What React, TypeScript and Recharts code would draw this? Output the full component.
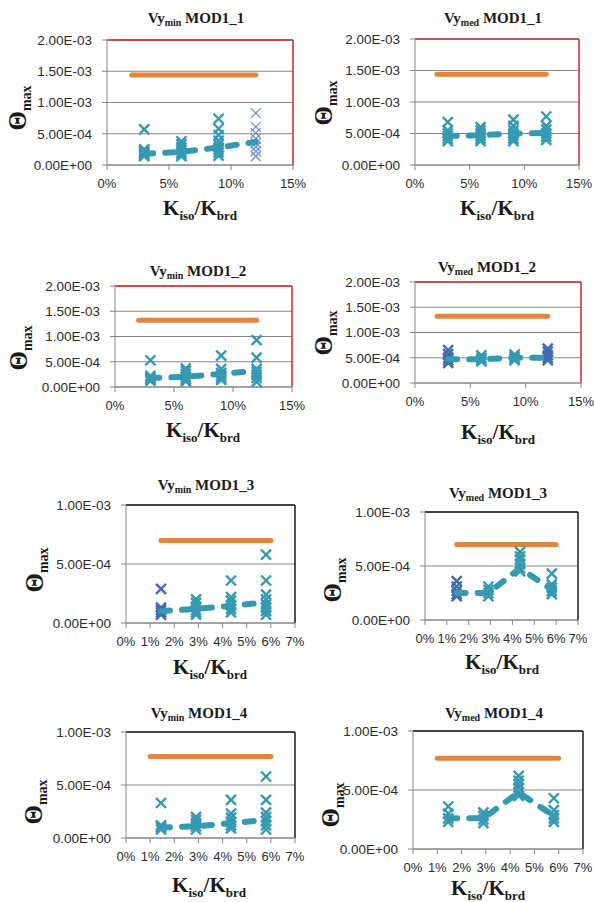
import React from 'react'
import { ScatterChart, Scatter, XAxis, YAxis, CartesianGrid, ReferenceLine } from 'recharts'

// x positions of the test groups (Kiso/Kbrd)
const xsMod12 = [0.03, 0.06, 0.09, 0.12]
const xsMod34 = [0.0145, 0.029, 0.0435, 0.058]

// tick labels
const xTicksWide = [0, 0.05, 0.1, 0.15]
const xTicksNarrow = [0, 0.01, 0.02, 0.03, 0.04, 0.05, 0.06, 0.07]
const yTicksHigh = [0, 5e-4, 1e-3, 1.5e-3, 2e-3]
const yTicksLow = [0, 5e-4, 1e-3]

// limit (orange) line: value and span
const limitValues = [1.44e-3, 1.44e-3, 1.32e-3, 1.32e-3, 0.7e-3, 0.7e-3, 0.77e-3, 0.77e-3]
const limitSpanMod12 = [0.02, 0.12]
const limitSpanMod3 = [0.0145, 0.06]
const limitSpanMod4 = [0.01, 0.06]

// mean values (dashed teal line)
const meanMin1 = [1.8e-4, 2.1e-4, 2.8e-4, 3.7e-4]
const meanMed1 = [4.6e-4, 4.7e-4, 5.0e-4, 5.1e-4]
const meanMin2 = [1.8e-4, 2.0e-4, 2.6e-4, 3.2e-4]
const meanMed2 = [4.7e-4, 4.7e-4, 5.0e-4, 5.0e-4]
const meanMin3 = [1.0e-4, 1.2e-4, 1.45e-4, 1.75e-4]
const meanMed3 = [2.5e-4, 2.5e-4, 4.8e-4, 2.8e-4]
const meanMin4 = [1.0e-4, 1.1e-4, 1.4e-4, 1.7e-4]
const meanMed4 = [2.6e-4, 2.6e-4, 4.8e-4, 2.8e-4]

// individual results (x markers), one list per x group
const ptsMin1 = [
  [5.7e-4, 2.5e-4, 2.2e-4, 2.0e-4, 1.8e-4, 1.6e-4, 1.4e-4],
  [3.8e-4, 3.3e-4, 2.8e-4, 2.4e-4, 2.0e-4, 1.7e-4, 1.4e-4],
  [7.4e-4, 5.8e-4, 4.8e-4, 3.9e-4, 3.3e-4, 2.8e-4, 2.4e-4, 2.0e-4, 1.5e-4],
  [8.3e-4, 6.1e-4, 5.1e-4, 4.2e-4, 3.5e-4, 2.9e-4, 2.2e-4, 1.4e-4],
]
const ptsMed1 = [
  [6.8e-4, 5.5e-4, 5.0e-4, 4.6e-4, 4.2e-4, 3.8e-4],
  [6.0e-4, 5.5e-4, 5.0e-4, 4.6e-4, 4.2e-4, 3.8e-4],
  [7.2e-4, 6.2e-4, 5.5e-4, 5.0e-4, 4.6e-4, 4.2e-4, 3.8e-4],
  [7.7e-4, 6.2e-4, 5.6e-4, 5.0e-4, 4.5e-4, 4.0e-4],
]
const ptsMin2 = [
  [5.3e-4, 2.2e-4, 1.8e-4, 1.5e-4, 1.2e-4],
  [3.7e-4, 3.2e-4, 2.6e-4, 2.0e-4, 1.5e-4, 1.1e-4],
  [6.2e-4, 3.6e-4, 2.8e-4, 2.3e-4, 1.8e-4, 1.4e-4],
  [9.3e-4, 5.8e-4, 3.6e-4, 3.0e-4, 2.4e-4, 1.8e-4, 1.0e-4],
]
const ptsMed2 = [
  [6.5e-4, 5.7e-4, 5.0e-4, 4.5e-4, 4.0e-4],
  [5.5e-4, 5.0e-4, 4.6e-4, 4.3e-4],
  [5.6e-4, 5.2e-4, 4.8e-4, 4.5e-4],
  [6.8e-4, 6.2e-4, 5.5e-4, 5.0e-4, 4.5e-4],
]
const ptsMin3 = [
  [2.9e-4, 1.3e-4, 1.1e-4, 0.9e-4, 0.7e-4],
  [2.0e-4, 1.7e-4, 1.4e-4, 1.1e-4, 0.9e-4, 0.7e-4],
  [3.6e-4, 2.2e-4, 1.9e-4, 1.5e-4, 1.2e-4, 0.9e-4],
  [5.8e-4, 3.6e-4, 2.4e-4, 2.0e-4, 1.6e-4, 1.3e-4, 1.0e-4, 0.7e-4],
]
const ptsMed3 = [
  [3.6e-4, 3.1e-4, 2.7e-4, 2.4e-4, 2.2e-4],
  [3.1e-4, 2.8e-4, 2.5e-4, 2.2e-4],
  [6.3e-4, 5.9e-4, 5.6e-4, 5.2e-4, 4.8e-4, 4.5e-4],
  [4.3e-4, 3.3e-4, 3.0e-4, 2.7e-4, 2.4e-4],
]
const ptsMin4 = [
  [3.3e-4, 1.2e-4, 1.0e-4, 0.8e-4],
  [2.0e-4, 1.7e-4, 1.4e-4, 1.1e-4, 0.8e-4],
  [3.6e-4, 2.3e-4, 1.9e-4, 1.5e-4, 1.2e-4, 0.9e-4],
  [5.8e-4, 3.6e-4, 2.4e-4, 2.0e-4, 1.6e-4, 1.2e-4, 0.8e-4],
]
const ptsMed4 = [
  [3.6e-4, 3.0e-4, 2.6e-4, 2.3e-4],
  [3.1e-4, 2.8e-4, 2.5e-4, 2.2e-4],
  [6.2e-4, 5.8e-4, 5.5e-4, 5.2e-4, 4.8e-4, 4.5e-4],
  [4.3e-4, 3.3e-4, 2.9e-4, 2.6e-4, 2.3e-4],
]

const ORANGE = '#E5853A'
const TEAL = '#3599B2'
const BLUE = '#3F6CAE'
const LIGHT_BLUE = '#6E8FD6'
const AXIS = '#868686'
const SERIF = '"Liberation Serif", "DejaVu Serif", serif'
const SANS = '"Liberation Sans", Arial, sans-serif'

type Rect = { x: number; y: number; w: number; h: number }
type Panel = {
  sub: string
  name: string
  plot: Rect
  xTicks: number[]
  yTicks: number[]
  border: string
  limit: number
  span: number[]
  xs: number[]
  mean: number[]
  pts: number[][]
  colors: string[]
  title: [number, number]
  xLabel: [number, number]
  yLabel: [number, number]
}

const panels: Panel[] = [
  { sub: 'min', name: 'MOD1_1', plot: { x: 107, y: 40, w: 186, h: 125 }, xTicks: xTicksWide, yTicks: yTicksHigh, border: '#C62D2D', limit: limitValues[0], span: limitSpanMod12, xs: xsMod12, mean: meanMin1, pts: ptsMin1, colors: [TEAL, TEAL, TEAL, LIGHT_BLUE], title: [196, 18], xLabel: [200, 208], yLabel: [17, 108] },
  { sub: 'med', name: 'MOD1_1', plot: { x: 415, y: 39, w: 164, h: 126 }, xTicks: xTicksWide, yTicks: yTicksHigh, border: '#C62D2D', limit: limitValues[1], span: limitSpanMod12, xs: xsMod12, mean: meanMed1, pts: ptsMed1, colors: [TEAL, TEAL, TEAL, TEAL], title: [493, 18], xLabel: [497, 208], yLabel: [323, 103] },
  { sub: 'min', name: 'MOD1_2', plot: { x: 115, y: 286, w: 177, h: 101 }, xTicks: xTicksWide, yTicks: yTicksHigh, border: '#C62D2D', limit: limitValues[2], span: limitSpanMod12, xs: xsMod12, mean: meanMin2, pts: ptsMin2, colors: [TEAL, TEAL, TEAL, TEAL], title: [198, 271], xLabel: [203, 430], yLabel: [18, 348] },
  { sub: 'med', name: 'MOD1_2', plot: { x: 415, y: 282, w: 166, h: 101 }, xTicks: xTicksWide, yTicks: yTicksHigh, border: '#C62D2D', limit: limitValues[3], span: limitSpanMod12, xs: xsMod12, mean: meanMed2, pts: ptsMed2, colors: [BLUE, TEAL, TEAL, BLUE], title: [487, 267], xLabel: [498, 432], yLabel: [323, 333] },
  { sub: 'min', name: 'MOD1_3', plot: { x: 126, y: 505, w: 169, h: 118 }, xTicks: xTicksNarrow, yTicks: yTicksLow, border: '#1a1a1a', limit: limitValues[4], span: limitSpanMod3, xs: xsMod34, mean: meanMin3, pts: ptsMin3, colors: [BLUE, TEAL, TEAL, TEAL], title: [206, 485], xLabel: [210, 667], yLabel: [34, 570] },
  { sub: 'med', name: 'MOD1_3', plot: { x: 425, y: 512, w: 153, h: 108 }, xTicks: xTicksNarrow, yTicks: yTicksLow, border: '#1a1a1a', limit: limitValues[5], span: limitSpanMod3, xs: xsMod34, mean: meanMed3, pts: ptsMed3, colors: [BLUE, TEAL, TEAL, TEAL], title: [498, 493], xLabel: [502, 662], yLabel: [332, 580] },
  { sub: 'min', name: 'MOD1_4', plot: { x: 126, y: 732, w: 169, h: 106 }, xTicks: xTicksNarrow, yTicks: yTicksLow, border: '#1a1a1a', limit: limitValues[6], span: limitSpanMod4, xs: xsMod34, mean: meanMin4, pts: ptsMin4, colors: [TEAL, TEAL, TEAL, TEAL], title: [199, 713], xLabel: [209, 885], yLabel: [33, 802] },
  { sub: 'med', name: 'MOD1_4', plot: { x: 413, y: 731, w: 170, h: 118 }, xTicks: xTicksNarrow, yTicks: yTicksLow, border: '#1a1a1a', limit: limitValues[7], span: limitSpanMod4, xs: xsMod34, mean: meanMed4, pts: ptsMed4, colors: [TEAL, TEAL, TEAL, TEAL], title: [494, 713], xLabel: [488, 888], yLabel: [330, 805] },
]

const sciFmt = (v: number) => {
  if (v === 0) return '0.00E+00'
  const e = Math.floor(Math.log10(Math.abs(v)) + 1e-9)
  const m = v / Math.pow(10, e)
  return `${m.toFixed(2)}E${e < 0 ? '-' : '+'}${String(Math.abs(e)).padStart(2, '0')}`
}
const pctFmt = (v: number) => `${Math.round(v * 100)}%`

const noMarker = () => <g />

const xMarker = (color: string, width: number, r: number) => (props: any) => {
  const { cx, cy } = props
  if (cx == null || cy == null) return <g />
  return (
    <g>
      <line x1={cx - r} y1={cy - r} x2={cx + r} y2={cy + r} stroke={color} strokeWidth={width} />
      <line x1={cx - r} y1={cy + r} x2={cx + r} y2={cy - r} stroke={color} strokeWidth={width} />
    </g>
  )
}

const Y_AXIS_W = 75
const X_AXIS_H = 35

function PanelChart({ p }: { p: Panel }) {
  const width = p.plot.w + Y_AXIS_W + 25
  const height = p.plot.h + 10 + X_AXIS_H
  const xMax = p.xTicks[p.xTicks.length - 1]
  const yMax = p.yTicks[p.yTicks.length - 1]
  const limitLine = p.span.map((x) => ({ x, y: p.limit }))
  const meanLine = p.xs.map((x, i) => ({ x, y: p.mean[i] }))

  return (
    <div style={{ position: 'absolute', left: p.plot.x - Y_AXIS_W, top: p.plot.y - 10 }}>
      <ScatterChart width={width} height={height} margin={{ top: 10, right: 25, bottom: 0, left: 0 }}>
        <CartesianGrid horizontal vertical={false} stroke={AXIS} strokeWidth={1} />
        <XAxis
          type="number"
          dataKey="x"
          domain={[0, xMax]}
          ticks={p.xTicks}
          interval={0}
          tickFormatter={pctFmt}
          height={X_AXIS_H}
          tickSize={5}
          tickMargin={9}
          axisLine={{ stroke: AXIS }}
          tickLine={{ stroke: AXIS }}
          tick={{ fontSize: 13, fill: '#2b2b2b', fontFamily: SANS }}
        />
        <YAxis
          type="number"
          dataKey="y"
          domain={[0, yMax]}
          ticks={p.yTicks}
          interval={0}
          tickFormatter={sciFmt}
          width={Y_AXIS_W}
          tickSize={5}
          tickMargin={10}
          axisLine={{ stroke: AXIS }}
          tickLine={{ stroke: AXIS }}
          tick={{ fontSize: 13.5, fill: '#2b2b2b', fontFamily: SANS }}
        />
        <ReferenceLine y={yMax} stroke={p.border} strokeWidth={1.5} />
        <ReferenceLine x={xMax} stroke={p.border} strokeWidth={1.5} />
        <Scatter
          data={limitLine}
          isAnimationActive={false}
          shape={noMarker}
          line={{ stroke: ORANGE, strokeWidth: 5, strokeLinecap: 'round' }}
        />
        {p.pts.map((group, gi) => {
          const color = p.colors[gi]
          const thin = color === LIGHT_BLUE
          return (
            <Scatter
              key={gi}
              data={group.map((y) => ({ x: p.xs[gi], y }))}
              isAnimationActive={false}
              shape={xMarker(color, thin ? 1.2 : 2.4, thin ? 5 : 5)}
            />
          )
        })}
        <Scatter
          data={meanLine}
          isAnimationActive={false}
          shape={noMarker}
          line={{ stroke: TEAL, strokeWidth: 6, strokeDasharray: '9 12', strokeLinecap: 'round' }}
        />
      </ScatterChart>
    </div>
  )
}

function Labels({ p }: { p: Panel }) {
  const center: React.CSSProperties = {
    position: 'absolute',
    transform: 'translate(-50%, -50%)',
    whiteSpace: 'nowrap',
    fontFamily: SERIF,
    fontWeight: 'bold',
    color: '#1a1a1a',
    lineHeight: 1,
  }
  return (
    <>
      <div style={{ ...center, left: p.title[0], top: p.title[1], fontSize: 15 }}>
        Vy<span style={{ fontSize: 10, position: 'relative', top: 3 }}>{p.sub}</span> {p.name}
      </div>
      <div style={{ ...center, left: p.xLabel[0], top: p.xLabel[1], fontSize: 21 }}>
        K<span style={{ fontSize: 13, position: 'relative', top: 5 }}>iso</span>/K
        <span style={{ fontSize: 13, position: 'relative', top: 5 }}>brd</span>
      </div>
      <div style={{ position: 'absolute', left: p.yLabel[0], top: p.yLabel[1], width: 0, height: 0 }}>
        <div style={{ ...center, left: 0, top: 0, fontSize: 25, transform: 'translate(-50%, -50%) rotate(-90deg)' }}>
          Θ<span style={{ fontSize: 14, position: 'relative', top: 5 }}>max</span>
        </div>
      </div>
    </>
  )
}

export default function App() {
  return (
    <div style={{ position: 'absolute', left: 0, top: 0, width: 594, height: 902, background: '#fff', overflow: 'hidden' }}>
      {panels.map((p, i) => (
        <PanelChart key={`c${i}`} p={p} />
      ))}
      {panels.map((p, i) => (
        <Labels key={`l${i}`} p={p} />
      ))}
    </div>
  )
}
